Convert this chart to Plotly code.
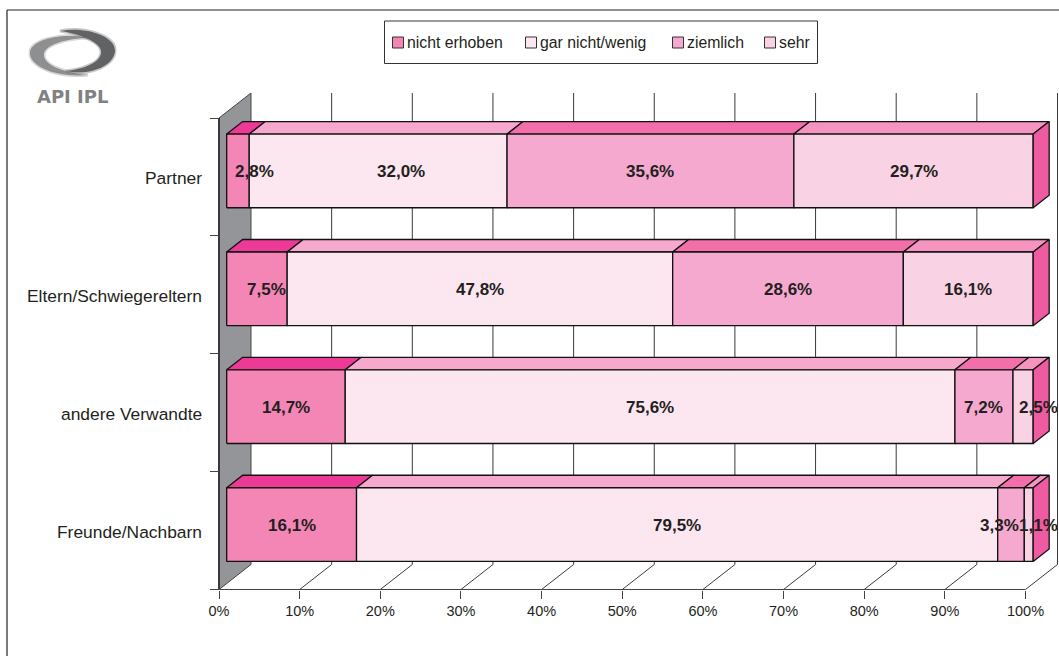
import plotly.graph_objects as go

# Survey shares per relationship type, bottom row first
categories = ["Freunde/Nachbarn", "andere Verwandte", "Eltern/Schwiegereltern", "Partner"]
series_names = ["nicht erhoben", "gar nicht/wenig", "ziemlich", "sehr"]
nicht_erhoben = [16.1, 14.7, 7.5, 2.8]
gar_nicht_wenig = [79.5, 75.6, 47.8, 32.0]
ziemlich = [3.3, 7.2, 28.6, 35.6]
sehr = [1.1, 2.5, 16.1, 29.7]
series_values = [nicht_erhoben, gar_nicht_wenig, ziemlich, sehr]
tick_values = [0, 10, 20, 30, 40, 50, 60, 70, 80, 90, 100]
tick_labels = [f"{v}%" for v in tick_values]

front_colors = ["#F386B5", "#FCE6F0", "#F6A9CF", "#F9D2E4"]
top_colors = ["#EE3A97", "#F6A9CD", "#F26FA9", "#F595BF"]
side_color = "#EF5BA0"
wall_color = "#939598"
ink = "#231F20"
grid_color = "#3A3A3A"

W, H = 1059, 656
X0, X100 = 219.0, 1025.5   # pixel span of the 0-100 axis
Y_TOP, Y_BOTTOM = 118.0, 589.5
PX_PER_PCT = (X100 - X0) / 100
PX_PER_BAND = (Y_BOTTOM - Y_TOP) / 4

# Oblique projection: full chart depth in pixels
DEPTH_PX_X, DEPTH_PX_Y = 32.0, 25.0
DX = DEPTH_PX_X / PX_PER_PCT
DY = DEPTH_PX_Y / PX_PER_BAND
BAR_NEAR, BAR_FAR = 0.24, 0.74
BAR_HEIGHT = 1 / 1.6

# Small sideways nudges (px) keep the narrow labels from colliding
label_nudge = {
    (3, 0): 17, (3, 1): 23, (2, 0): 10,
    (1, 3): 15, (0, 2): -12, (0, 3): 10,
}


def project(value, band_y, depth):
    return value + depth * DX, band_y + depth * DY


fig = go.Figure()


def polygon(points, fill, line="#111111", width=1.3):
    xs = [p[0] for p in points] + [points[0][0]]
    ys = [p[1] for p in points] + [points[0][1]]
    fig.add_trace(go.Scatter(
        x=xs, y=ys, mode="lines", fill="toself", fillcolor=fill,
        line=dict(color=line, width=width),
        showlegend=False, hoverinfo="skip",
    ))


def polyline(points, color, width=1):
    fig.add_trace(go.Scatter(
        x=[p[0] for p in points], y=[p[1] for p in points], mode="lines",
        line=dict(color=color, width=width),
        showlegend=False, hoverinfo="skip",
    ))


# Side wall and the gridlines running over floor and back plane
polygon([project(0, 0, 0), project(0, 0, 1), project(0, 4, 1), project(0, 4, 0)],
        wall_color, line="#444444", width=1)
polyline([project(0, 0, 0), project(0, 4, 0)], "#3A3A3A", 2)
polyline([project(0, 0, 0), project(100, 0, 0)], "#444444", 1)
for v in tick_values[1:]:
    polyline([project(v, 0, 0), project(v, 0, 1), project(v, 4, 1)], grid_color, 1)

# Stacked blocks, drawn from the top row down so nearer faces overlap
annotations = []
for row in reversed(range(len(categories))):
    center = row + 0.5
    low, high = center - BAR_HEIGHT / 2, center + BAR_HEIGHT / 2
    start = 0.0
    total = sum(s[row] for s in series_values)
    for s, values in enumerate(series_values):
        end = start + values[row] * 100 / total
        polygon([project(start, high, BAR_NEAR), project(start, high, BAR_FAR),
                 project(end, high, BAR_FAR), project(end, high, BAR_NEAR)],
                top_colors[s])
        polygon([project(start, low, BAR_NEAR), project(start, high, BAR_NEAR),
                 project(end, high, BAR_NEAR), project(end, low, BAR_NEAR)],
                front_colors[s])
        lx, ly = project((start + end) / 2, center, BAR_NEAR)
        annotations.append(dict(
            x=lx, y=ly, xref="x", yref="y",
            text=f"{values[row]:.1f}%".replace(".", ","), showarrow=False,
            xanchor="center", yanchor="middle", yshift=-1,
            xshift=label_nudge.get((row, s), 0),
            font=dict(family="Liberation Sans", size=17, color=ink, weight="bold"),
        ))
        start = end
    polygon([project(100, low, BAR_NEAR), project(100, high, BAR_NEAR),
             project(100, high, BAR_FAR), project(100, low, BAR_FAR)],
            side_color)

# Row labels beside the wall
for row, name in enumerate(categories):
    annotations.append(dict(
        x=0, y=row + 0.5, xref="x", yref="y", text=name, showarrow=False,
        xanchor="right", yanchor="middle", xshift=-15, yshift=-1,
        font=dict(family="Liberation Sans", size=17.4, color=ink),
    ))


def px(x):
    return x / W


def py(y):
    return 1 - y / H


# Key box with swatches and names, plus the page frame
shapes = [
    dict(type="rect", xref="paper", yref="paper", x0=px(384.5), x1=px(817.5),
         y0=py(63.5), y1=py(21), line=dict(color="#333333", width=1), fillcolor="white"),
    dict(type="line", xref="paper", yref="paper", x0=px(7), x1=px(7), y0=py(10), y1=0,
         line=dict(color="#222222", width=1.2)),
    dict(type="line", xref="paper", yref="paper", x0=px(7), x1=1, y0=py(10), y1=py(10),
         line=dict(color="#222222", width=1.2)),
]
swatch_x = [392.5, 525.5, 672.5, 764.5]
for sx, name, color in zip(swatch_x, series_names, front_colors):
    shapes.append(dict(type="rect", xref="paper", yref="paper", x0=px(sx), x1=px(sx + 11),
                       y0=py(48), y1=py(37), fillcolor=color,
                       line=dict(color="#333333", width=1)))
    annotations.append(dict(
        x=px(sx + 12.5), y=py(42.5), xref="paper", yref="paper", text=name, showarrow=False,
        xanchor="left", yanchor="middle",
        font=dict(family="Liberation Sans", size=15.8, color=ink),
    ))


def swoosh(start, curves, color):
    """Closed bezier outline given in page pixels, filled with a soft halo."""
    path = f"M{px(start[0]):.4f},{py(start[1]):.4f}"
    for (a, b, c, d, e, f) in curves:
        path += (f" C{px(a):.4f},{py(b):.4f} {px(c):.4f},{py(d):.4f}"
                 f" {px(e):.4f},{py(f):.4f}")
    path += " Z"
    return [
        dict(type="path", xref="paper", yref="paper", path=path, opacity=0.35,
             fillcolor=color, line=dict(color=color, width=3)),
        dict(type="path", xref="paper", yref="paper", path=path,
             fillcolor=color, line=dict(width=0)),
    ]


# Institute logo: two interlocking gray swooshes and a wordmark
shapes += swoosh((90, 38), [(60, 32, 30, 40, 30, 53), (30, 66, 55, 78, 88, 75),
                            (60, 72, 43, 64, 44, 54), (45, 45, 66, 38, 90, 38)], "#8E8F91")
shapes += swoosh((60, 31), [(85, 26, 116, 36, 115, 51), (114, 66, 90, 76, 66, 71),
                            (90, 68, 102, 60, 101, 51), (100, 42, 80, 34, 60, 31)], "#616264")
annotations.append(dict(
    x=px(72), y=py(96.5), xref="paper", yref="paper", text="API IPL", showarrow=False,
    xanchor="center", yanchor="middle",
    font=dict(family="DejaVu Sans", size=18, color="#808183", weight="bold"),
))

fig.update_layout(
    width=W, height=H, autosize=False,
    margin=dict(l=0, r=0, t=0, b=0),
    paper_bgcolor="white", plot_bgcolor="rgba(0,0,0,0)",
    showlegend=False, hovermode=False,
    shapes=shapes, annotations=annotations,
    xaxis=dict(
        domain=[0, 1], range=[-X0 / PX_PER_PCT, (W - X0) / PX_PER_PCT],
        anchor="free", position=1 - Y_BOTTOM / H,
        tickmode="array", tickvals=tick_values, ticktext=tick_labels,
        ticks="outside", ticklen=8, tickcolor="#444444", tickwidth=1,
        showline=False, showgrid=False, zeroline=False, automargin=False,
        tickfont=dict(family="Liberation Sans", size=14.5, color=ink),
    ),
    yaxis=dict(
        domain=[0, 1], range=[-(H - Y_BOTTOM) / PX_PER_BAND, Y_BOTTOM / PX_PER_BAND],
        anchor="free", position=X0 / W,
        tickmode="array", tickvals=[0, 1, 2, 3, 4], ticktext=["", "", "", "", ""],
        ticks="outside", ticklen=9, tickcolor="#444444", tickwidth=1,
        showline=False, showgrid=False, zeroline=False, automargin=False,
    ),
)

fig.write_html("out.html")
